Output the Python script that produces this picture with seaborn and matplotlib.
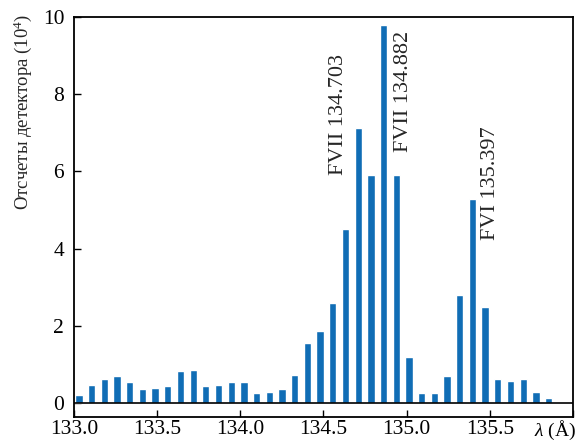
import matplotlib
matplotlib.use("Agg")
import matplotlib.pyplot as plt
from matplotlib.transforms import ScaledTranslation
import seaborn as sns
import pandas as pd

# ---------------- DATA ----------------
wavelength = [133.030, 133.106, 133.183, 133.259, 133.335, 133.412, 133.488,
              133.564, 133.640, 133.717, 133.793, 133.869, 133.946, 134.022,
              134.098, 134.175, 134.251, 134.327, 134.403, 134.480, 134.556,
              134.632, 134.709, 134.785, 134.861, 134.938, 135.014, 135.090,
              135.166, 135.243, 135.319, 135.395, 135.472, 135.548, 135.624,
              135.701, 135.777, 135.853]
counts = [0.21, 0.46, 0.63, 0.71, 0.55, 0.37, 0.38, 0.45, 0.82, 0.86,
          0.44, 0.48, 0.54, 0.55, 0.26, 0.28, 0.36, 0.73, 1.55, 1.87,
          2.58, 4.51, 7.13, 5.91, 9.80, 5.91, 1.19, 0.25, 0.26, 0.71,
          2.81, 5.29, 2.48, 0.62, 0.58, 0.63, 0.28, 0.13]

x_ticks = [133.0, 133.5, 134.0, 134.5, 135.0, 135.5, 136.0]
x_tick_labels = ["133.0", "133.5", "134.0", "134.5", "135.0", "135.5", r"$\mathit{\lambda}$ (Å)"]
y_ticks = [0, 2, 4, 6, 8, 10]

line_labels = ["FVII 134.703", "FVII 134.882", "FVI 135.397"]
line_x = [134.593, 134.982, 135.503]
line_y = [5.91, 6.50, 4.22]

df = pd.DataFrame({"wavelength": wavelength, "counts": counts})

# ---------------- STYLE ----------------
sns.set_theme(style="ticks")
plt.rcParams["font.family"] = ["Liberation Serif", "DejaVu Serif"]
plt.rcParams["mathtext.fontset"] = "custom"
plt.rcParams["mathtext.rm"] = "Liberation Serif"
plt.rcParams["mathtext.it"] = "Liberation Serif:italic"
plt.rcParams["font.size"] = 15.5

fig = plt.figure(figsize=(5.82, 4.41), dpi=100)
ax = fig.add_axes([0.127, 0.0544, 0.8575, 0.9071])

sns.barplot(data=df, x="wavelength", y="counts", native_scale=True,
            color="#106db5", saturation=1, width=0.58, ax=ax)

ax.axhline(0, color="black", lw=1.2, zorder=3)

ax.set_xlim(133.0, 136.0)
ax.set_ylim(-0.36, 10)
ax.set_xticks(x_ticks)
ax.set_xticklabels(x_tick_labels)
ax.set_yticks(y_ticks)
ax.set_xlabel("")
ax.set_ylabel(r"Отсчеты детектора (10$^{4}$)", fontsize=13.5)
ax.yaxis.set_label_coords(-0.08, 0.7625)

ax.tick_params(direction="in", length=5, width=1, labelsize=15.5, colors="black")
ax.tick_params(axis="y", pad=7)
ax.tick_params(axis="x", pad=2)
for s in ax.spines.values():
    s.set_visible(True)
    s.set_linewidth(1.3)
    s.set_color("black")

# wavelength unit label: a bit smaller and shifted left so it fits
last = ax.get_xticklabels()[-1]
last.set_fontsize(14)
last.set_transform(last.get_transform() + ScaledTranslation(-0.18, 0.01, fig.dpi_scale_trans))

for lbl, lx, ly in zip(line_labels, line_x, line_y):
    ax.text(lx, ly, lbl, rotation=90, ha="center", va="bottom", fontsize=16)

fig.savefig("out.png", dpi=100)
plt.close()
